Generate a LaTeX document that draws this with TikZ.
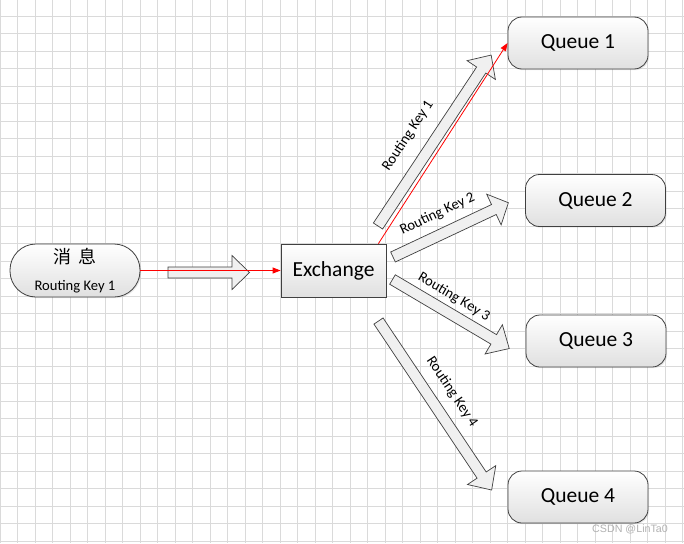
\documentclass[tikz,border=0pt]{standalone}
\usepackage{fontspec}
\setmainfont{Carlito}
\newfontfamily\cjkfont{Noto Sans CJK SC}
\newfontfamily\wmfont{Liberation Sans}
\usetikzlibrary{arrows.meta,shadows}
\definecolor{gridc}{HTML}{DADADA}
\definecolor{edgec}{HTML}{404040}
\definecolor{shadeb}{HTML}{E0E0E0}
\definecolor{arrowb}{HTML}{F0F0F0}
\tikzset{
  boxbase/.style={draw=edgec, line width=0.8pt, top color=white, bottom color=shadeb,
    inner sep=0pt, font=\fontsize{21.5}{24}\selectfont},
  queuebox/.style={boxbase, rounded corners=14pt, minimum width=140pt, minimum height=52pt,
    drop shadow={opacity=0.18, shadow xshift=1.2pt, shadow yshift=-1.2pt}},
  exbox/.style={boxbase, minimum width=105pt, minimum height=53pt,
    drop shadow={opacity=0.18, shadow xshift=1.2pt, shadow yshift=-1.2pt}},
  msgbox/.style={boxbase, rounded corners=26pt, minimum width=130pt, minimum height=53pt,
    drop shadow={opacity=0.18, shadow xshift=1.2pt, shadow yshift=-1.2pt}},
  blockarrow/.style={draw=edgec, line width=0.7pt, fill=arrowb},
  rklabel/.style={font=\fontsize{14.6}{16}\selectfont, inner sep=0pt},
  redline/.style={red, line width=0.8pt, -{Triangle[length=8pt,width=6pt]}},
}
% tail, angle, length, head length
\newcommand\blockarr[4]{%
  \begin{scope}[shift={#1}, rotate=#2]
    \draw[blockarrow] (0,-5.5) -- ({#3-#4},-5.5) -- ({#3-#4},-17) -- (#3,0)
      -- ({#3-#4},17) -- ({#3-#4},5.5) -- (0,5.5) -- cycle;
  \end{scope}}
\begin{document}
\begin{tikzpicture}[x=1pt, y=-1pt]
  \useasboundingbox (0,0) rectangle (684,543);
  \fill[white] (0,0) rectangle (684,543);
  % grid
  \foreach \k in {0,...,39} \draw[gridc, line width=0.9pt] (17.5*\k,0) -- (17.5*\k,543);
  \foreach \k in {1,...,31} \draw[gridc, line width=0.9pt] (0,17.5*\k-1.2) -- (684,17.5*\k-1.2);

  % block arrows
  \blockarr{(168,272.5)}{0}{81.5}{17.5}
  \blockarr{(378,226)}{56.5}{205}{18}
  \blockarr{(393,257)}{25.2}{127.5}{16}
  \blockarr{(392.5,279.5)}{-30.6}{135.6}{18}
  \blockarr{(378.5,321)}{-56.2}{203.4}{18}

  % nodes
  \node[msgbox] (msg) at (75,270.5) {};
  \node[font=\cjkfont\fontsize{18}{20}\selectfont, inner sep=0pt] (msgt) at (75,257) {消\hspace{7pt}息};
  \node[rklabel] (msgk) at (75,287) {Routing Key 1};
  \node[exbox] (ex) at (333.5,270.5) {Exchange};
  \node[queuebox] (q1) at (578,43) {Queue 1};
  \node[queuebox] (q2) at (595.5,200.5) {Queue 2};
  \node[queuebox] (q3) at (596,341) {Queue 3};
  \node[queuebox] (q4) at (578,497) {Queue 4};

  % labels on block arrows
  \node[rklabel, rotate=56.5] (k1) at (408,136) {Routing Key 1};
  \node[rklabel, rotate=25.2] (k2) at (437.5,214) {Routing Key 2};
  \node[rklabel, rotate=-30.6] (k3) at (454,297) {Routing Key 3};
  \node[rklabel, rotate=-56.2] (k4) at (452,392) {Routing Key 4};

  % red connectors
  \draw[redline] (msg.east) -- (ex.west);
  \coordinate (exout) at ([xshift=-8pt]ex.north east);
  \draw[redline] (exout) -- (q1.west);

  % watermark
  \node[font=\wmfont\fontsize{10.7}{12}\selectfont, text=gray!60, inner sep=0pt] (wm) at (630,529) {CSDN @LinTa0};
\end{tikzpicture}
\end{document}
